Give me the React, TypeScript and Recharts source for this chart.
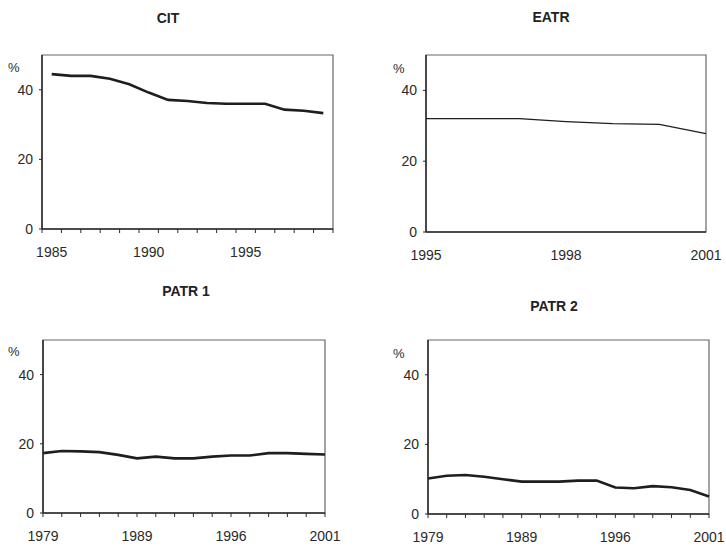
import React from "react";
import { LineChart, Line, XAxis, YAxis, ReferenceArea } from "recharts";

// values (percent)
const citYears = [1985, 1986, 1987, 1988, 1989, 1990, 1991, 1992, 1993, 1994, 1995, 1996, 1997, 1998, 1999];
const citValues = [44.5, 44, 44, 43.2, 41.6, 39.2, 37.1, 36.8, 36.2, 36, 36, 36, 34.3, 34, 33.3];
const citLabels = [1985, 1990, 1995];

const eatrYears = [1995, 1996, 1997, 1998, 1999, 2000, 2001];
const eatrValues = [32, 32, 32, 31.2, 30.6, 30.4, 27.8];
const eatrLabels = [1995, 1998, 2001];

const patrLabels = ["1979", "", "", "", "", "1989", "", "", "", "", "1996", "", "", "", "", "2001"];
const patr1Values = [17.3, 17.9, 17.8, 17.6, 16.8, 15.8, 16.3, 15.8, 15.8, 16.3, 16.6, 16.6, 17.3, 17.3, 17.1, 16.9];
const patr2Values = [10.2, 11.0, 11.2, 10.7, 10.0, 9.3, 9.3, 9.3, 9.6, 9.6, 7.6, 7.4, 8.0, 7.7, 6.9, 5.0];

const yTicks = [0, 20, 40];

const FONT = "'Liberation Sans', Arial, sans-serif";
const INK = "#2a2a2a";

const ML = 40; // y axis width
const MT = 10;
const MR = 16;
const XH = 34;

type Box = { x: number; y: number; w: number; h: number };

interface PanelProps {
  box: Box;
  data: Array<{ x: number; v: number }>;
  domain: [number, number];
  ticks: number[];
  renderTick: (props: any) => React.ReactElement;
  lineWidth: number;
}

const Panel = ({ box, data, domain, ticks, renderTick, lineWidth }: PanelProps) => {
  return (
    <div style={{ position: "absolute", left: box.x - ML, top: box.y - MT }}>
      <LineChart
        width={ML + box.w + MR}
        height={MT + box.h + XH}
        data={data}
        margin={{ top: MT, right: MR, left: 0, bottom: 0 }}
        style={{ overflow: "visible" }}
      >
        <XAxis
          dataKey="x"
          type="number"
          domain={domain}
          ticks={ticks}
          interval={0}
          height={XH}
          tickLine={false}
          tickSize={0}
          tickMargin={0}
          axisLine={{ stroke: INK, strokeWidth: 1.5 }}
          tick={renderTick}
        />
        <YAxis
          type="number"
          domain={[0, 50]}
          ticks={yTicks}
          width={ML}
          tickSize={3}
          tickMargin={6}
          axisLine={{ stroke: INK, strokeWidth: 1.5 }}
          tickLine={{ stroke: INK }}
          tick={{ fill: INK, fontSize: 14, fontFamily: FONT }}
        />
        <ReferenceArea x1={domain[0]} x2={domain[1]} y1={0} y2={50} fill="none" stroke="#666" strokeWidth={1.2} />
        <Line
          type="linear"
          dataKey="v"
          stroke="#1e1e1e"
          strokeWidth={lineWidth}
          dot={false}
          activeDot={false}
          isAnimationActive={false}
        />
      </LineChart>
    </div>
  );
};

const label = (x: number, y: number, text: string | number) => (
  <text x={x} y={y + 28} textAnchor="middle" fill={INK} fontSize={14} fontFamily={FONT}>
    {text}
  </text>
);

const mark = (x: number, y: number) => <line x1={x} x2={x} y1={y} y2={y + 4} stroke={INK} strokeWidth={1} />;

const citBox: Box = { x: 42, y: 55, w: 291, h: 174 };
const eatrBox: Box = { x: 426, y: 55, w: 280, h: 177 };
const patr1Box: Box = { x: 43, y: 340, w: 282, h: 173 };
const patr2Box: Box = { x: 428, y: 340, w: 281, h: 174 };

const citHalf = citBox.w / citYears.length / 2;

const citTick = (props: any) => {
  const { x, y, payload, index } = props;
  return (
    <g>
      {mark(x - citHalf, y)}
      {index === citYears.length - 1 ? mark(x + citHalf, y) : null}
      {citLabels.includes(payload.value) ? label(x, y, payload.value) : null}
    </g>
  );
};

const eatrTick = (props: any) => {
  const { x, y, payload } = props;
  return <g>{label(x, y, payload.value)}</g>;
};

const patrTick = (props: any) => {
  const { x, y, payload } = props;
  const txt = patrLabels[payload.value];
  return (
    <g>
      {mark(x, y)}
      {txt ? label(x, y, txt) : null}
    </g>
  );
};

const citData = citYears.map((x, i) => ({ x, v: citValues[i] }));
const eatrData = eatrYears.map((x, i) => ({ x, v: eatrValues[i] }));
const patr1Data = patr1Values.map((v, i) => ({ x: i, v }));
const patr2Data = patr2Values.map((v, i) => ({ x: i, v }));
const patrIdx = patrLabels.map((_, i) => i);

export default function App() {
  return (
    <div
      style={{
        position: "absolute",
        left: 0,
        top: 0,
        width: 726,
        height: 547,
        overflow: "hidden",
        background: "#fff",
        fontFamily: FONT,
      }}
    >
      <Panel
        box={citBox}
        data={citData}
        domain={[citYears[0] - 0.5, citYears[citYears.length - 1] + 0.5]}
        ticks={citYears}
        renderTick={citTick}
        lineWidth={2.6}
      />
      <Panel
        box={eatrBox}
        data={eatrData}
        domain={[eatrYears[0], eatrYears[eatrYears.length - 1]]}
        ticks={eatrLabels}
        renderTick={eatrTick}
        lineWidth={1.3}
      />
      <Panel
        box={patr1Box}
        data={patr1Data}
        domain={[0, patrLabels.length - 1]}
        ticks={patrIdx}
        renderTick={patrTick}
        lineWidth={2.6}
      />
      <Panel
        box={patr2Box}
        data={patr2Data}
        domain={[0, patrLabels.length - 1]}
        ticks={patrIdx}
        renderTick={patrTick}
        lineWidth={2.6}
      />
      <svg width={726} height={547} style={{ position: "absolute", left: 0, top: 0, pointerEvents: "none" }}>
        <g fill="#222" fontFamily={FONT} fontWeight="bold" fontSize={14} textAnchor="middle">
          <text x={168} y={23}>CIT</text>
          <text x={551} y={22}>EATR</text>
          <text x={186} y={296}>PATR 1</text>
          <text x={554} y={311}>PATR 2</text>
        </g>
        <g fill={INK} fontFamily={FONT} fontSize={13}>
          <text x={8} y={72}>%</text>
          <text x={393} y={73}>%</text>
          <text x={8} y={356}>%</text>
          <text x={393} y={358}>%</text>
        </g>
      </svg>
    </div>
  );
}
